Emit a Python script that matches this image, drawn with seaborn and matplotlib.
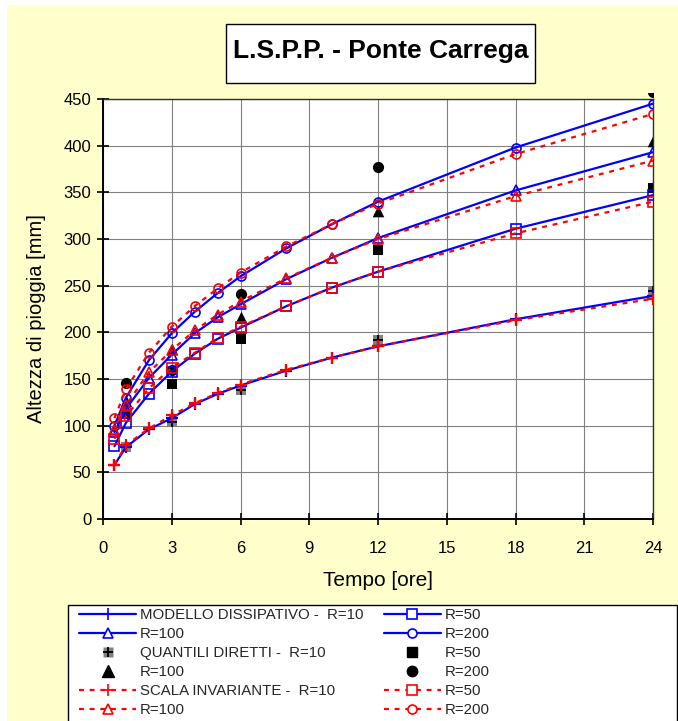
import matplotlib
matplotlib.use("Agg")
import matplotlib.pyplot as plt
import seaborn as sns
from matplotlib.lines import Line2D
from matplotlib.patches import Rectangle
from matplotlib.transforms import Bbox, TransformedBbox

# Durations [h] and rainfall depths [mm]
durate = [0.5, 1, 2, 3, 4, 5, 6, 8, 10, 12, 18, 24]

md_r10 = [58, 77, 96, 108, 123, 134, 143, 159, 173, 185, 214, 239]
md_r50 = [78, 103, 134, 158, 177, 193, 205, 228, 248, 265, 311, 347]
md_r100 = [93, 118, 151, 176, 199, 216, 230, 257, 280, 301, 352, 393]
md_r200 = [100, 130, 170, 199, 222, 242, 260, 290, 316, 340, 398, 445]

si_r10 = [58, 79, 97, 111, 124, 135, 144, 160, 173, 185, 213, 236]
si_r50 = [86, 110, 140, 162, 178, 194, 206, 228, 248, 265, 306, 340]
si_r100 = [95, 122, 157, 181, 202, 219, 233, 258, 280, 300, 346, 384]
si_r200 = [108, 139, 178, 206, 228, 247, 264, 292, 316, 338, 391, 434]

durate_qd = [1, 3, 6, 12, 24]
qd_r10 = [77, 104, 138, 192, 244]
qd_r50 = [112, 145, 193, 288, 355]
qd_r100 = [126, 182, 216, 330, 405]
qd_r200 = [146, 160, 241, 377, 458]

x_ticks = [0, 3, 6, 9, 12, 15, 18, 21, 24]
y_ticks = [0, 50, 100, 150, 200, 250, 300, 350, 400, 450]

titolo = "L.S.P.P. - Ponte Carrega"
x_label = "Tempo [ore]"
y_label = "Altezza di pioggia [mm]"

legend_labels = [
    "MODELLO DISSIPATIVO -  R=10", "R=50",
    "R=100", "R=200",
    "QUANTILI DIRETTI -  R=10", "R=50",
    "R=100", "R=200",
    "SCALA INVARIANTE -  R=10", "R=50",
    "R=100", "R=200",
]

sns.set_theme(style="white")
plt.rcParams["font.family"] = ["Liberation Sans", "DejaVu Sans"]

W, H = 678, 721
fig = plt.figure(figsize=(W / 100, H / 100), dpi=100, facecolor="white")

# light yellow chart area
fig.patches.append(Rectangle((7 / W, 0), 1, 1 - 5 / H, transform=fig.transFigure,
                             facecolor="#FFFFCC", edgecolor="none", zorder=-10))

ax = fig.add_axes([103 / W, 1 - 519 / H, 550 / W, 420 / H])
ax.set_facecolor("white")

BLUE = "#0000FF"
RED = "#FF0000"
MS = 6.5
MEW = 1.2
DOT = (0, (2.2, 2.6))

markers = {"r10": "+", "r50": "s", "r100": "^", "r200": "o"}

md = {"r10": md_r10, "r50": md_r50, "r100": md_r100, "r200": md_r200}
si = {"r10": si_r10, "r50": si_r50, "r100": si_r100, "r200": si_r200}

# scala invariante (red dotted)
for k, vals in si.items():
    ms = MS + 2 if k == "r10" else MS
    sns.lineplot(x=durate, y=vals, ax=ax, color=RED, lw=1.6,
                 linestyle=DOT, marker=markers[k], markersize=ms,
                 markerfacecolor="none", markeredgecolor=RED,
                 markeredgewidth=MEW + (0.4 if k == "r10" else 0), zorder=4)

# modello dissipativo (blue solid)
for k, vals in md.items():
    ms = MS + 2 if k == "r10" else MS
    sns.lineplot(x=durate, y=vals, ax=ax, color=BLUE, lw=1.6, marker=markers[k],
                 markersize=ms, markerfacecolor="none", markeredgecolor=BLUE,
                 markeredgewidth=MEW + (0.4 if k == "r10" else 0), zorder=3)

# quantili diretti (black filled markers)
sns.scatterplot(x=durate_qd, y=qd_r10, ax=ax, marker="s", s=60, color="#808080",
                edgecolor="#808080", linewidth=0, zorder=2)
sns.scatterplot(x=durate_qd, y=qd_r10, ax=ax, marker="+", s=50, color="black",
                linewidth=1.3, zorder=2.1)
sns.scatterplot(x=durate_qd, y=qd_r50, ax=ax, marker="s", s=60, color="black",
                edgecolor="black", linewidth=0, zorder=2)
sns.scatterplot(x=durate_qd, y=qd_r100, ax=ax, marker="^", s=70, color="black",
                edgecolor="black", linewidth=0, zorder=2)
sns.scatterplot(x=durate_qd, y=qd_r200, ax=ax, marker="o", s=65, color="black",
                edgecolor="black", linewidth=0, zorder=2)
# the plot area reaches a few pixels above the 450 line
plot_area = TransformedBbox(Bbox([[0, 0], [1, 1 + 6.5 / 420]]), ax.transAxes)
ax.collections[-1].set_clip_box(plot_area)

ax.set_xlim(0, 24)
ax.set_ylim(0, 450)
ax.set_xticks(x_ticks)
ax.set_yticks(y_ticks)
ax.grid(True, color="#808080", lw=0.8)
ax.set_axisbelow(True)
for side in ["left", "bottom"]:
    ax.spines[side].set_color("black")
    ax.spines[side].set_linewidth(1.4)
for side in ["top", "right"]:
    ax.spines[side].set_color("#303030")
    ax.spines[side].set_linewidth(1.0)
ax.tick_params(axis="both", direction="inout", length=8, width=1.2, colors="black",
               labelsize=12, bottom=True, left=True)
ax.tick_params(axis="y", pad=4.5)
ax.tick_params(axis="x", pad=12)
ax.set_xlabel(x_label, fontsize=15, color="black")
ax.set_ylabel(y_label, fontsize=14.5, color="black")
ax.xaxis.set_label_coords(0.5, -(581 - 519) / 420)
ax.yaxis.set_label_coords(-(103 - 37) / 550, (519 - 319) / 420)
ax.xaxis.label.set_va("center")
ax.yaxis.label.set_va("center")

# title box
fig.patches.append(Rectangle((226 / W, 1 - 83 / H), 309 / W, 59 / H,
                             transform=fig.transFigure, facecolor="white",
                             edgecolor="black", lw=1.0, zorder=5))
fig.text(380.5 / W, 1 - 51 / H, titolo, ha="center", va="center",
         fontsize=19, fontweight="bold", color="black", zorder=6)

# legend frame
fig.patches.append(Rectangle((68 / W, 1 - 730 / H), 609 / W, 125 / H,
                             transform=fig.transFigure, facecolor="white",
                             edgecolor="black", lw=1.0, zorder=5))


def line_handle(color, marker, ls, ms=MS):
    return Line2D([], [], color=color, lw=1.6, linestyle=ls, marker=marker,
                  markersize=ms, markerfacecolor="white", markeredgecolor=color,
                  markeredgewidth=MEW)


h_md = {k: line_handle(BLUE, m, "-", MS + (2 if k == "r10" else 0)) for k, m in markers.items()}
h_si = {k: line_handle(RED, m, DOT, MS + (2 if k == "r10" else 0)) for k, m in markers.items()}
h_qd10 = (Line2D([], [], ls="none", marker="s", markersize=7, color="#808080", mec="none"),
          Line2D([], [], ls="none", marker="+", markersize=7, color="black", mew=1.3))
h_qd = {
    "r10": h_qd10,
    "r50": Line2D([], [], ls="none", marker="s", markersize=7, color="black"),
    "r100": Line2D([], [], ls="none", marker="^", markersize=8, color="black"),
    "r200": Line2D([], [], ls="none", marker="o", markersize=7.5, color="black"),
}

rows = [
    (h_md["r10"], h_md["r50"]), (h_md["r100"], h_md["r200"]),
    (h_qd["r10"], h_qd["r50"]), (h_qd["r100"], h_qd["r200"]),
    (h_si["r10"], h_si["r50"]), (h_si["r100"], h_si["r200"]),
]
col1_h = [r[0] for r in rows]
col2_h = [r[1] for r in rows]
col1_l = legend_labels[0::2]
col2_l = legend_labels[1::2]

leg = fig.legend(col1_h + col2_h, col1_l + col2_l, ncol=2, loc="upper left",
                 bbox_to_anchor=(79 / W, 1 - 608 / H), frameon=False, fontsize=10.8,
                 handlelength=3.8, handletextpad=0.27, columnspacing=1.35,
                 labelspacing=0.33, borderpad=0, borderaxespad=0)
leg.set_zorder(7)

fig.savefig("out.png", dpi=100, facecolor=fig.get_facecolor())
